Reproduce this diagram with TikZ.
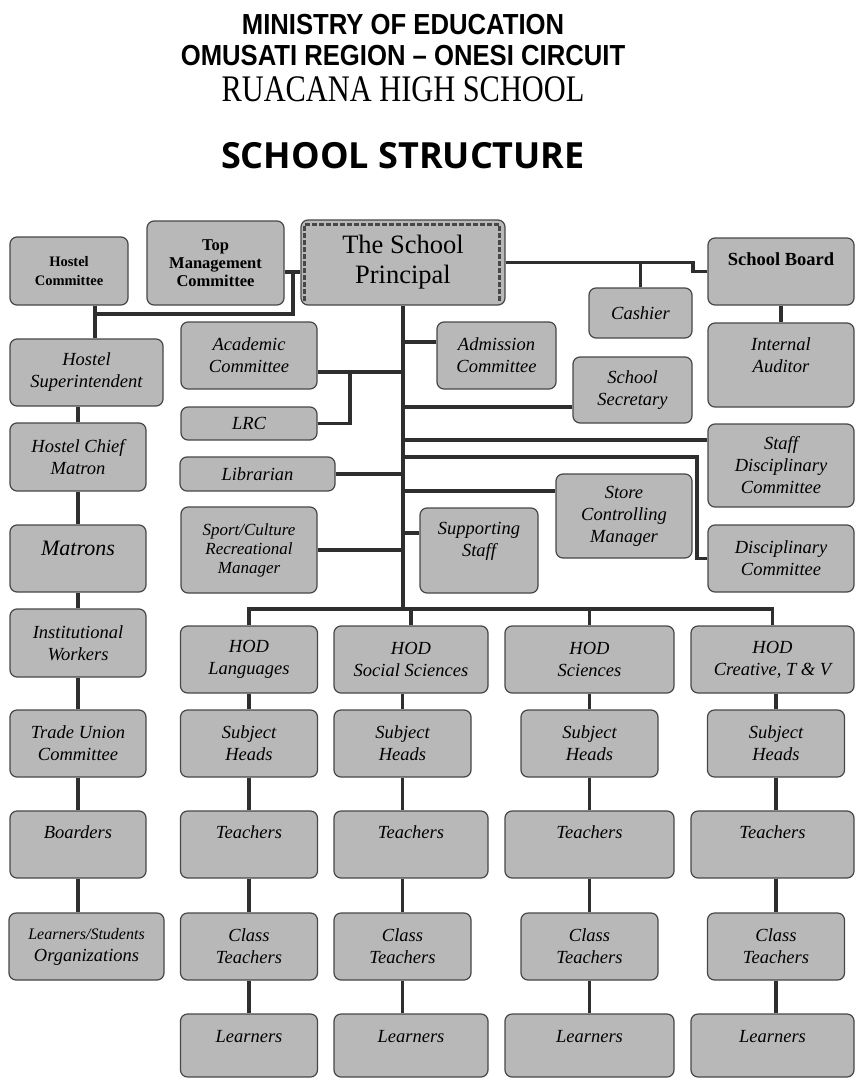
\documentclass[tikz,border=0pt]{standalone}
\usepackage{fontspec}
\setmainfont{Liberation Serif}
\newfontfamily\headsans{Liberation Sans}[FakeStretch=0.885]
\newfontfamily\titleserif{Liberation Serif}[FakeStretch=0.81]
\newfontfamily\structfont{Open Sans}
\definecolor{boxgray}{gray}{0.72}
\definecolor{edgegray}{gray}{0.28}
\definecolor{linegray}{gray}{0.18}

\begin{document}
\begin{tikzpicture}[x=1pt, y=-1pt,
    wh/.style 2 args={minimum width=#1, minimum height=#2},
    box/.style={draw=edgegray, fill=boxgray, rounded corners=7pt, line width=1.2pt,
                inner sep=0pt, align=center, font=\itshape\fontsize{18.5}{22}\selectfont},
    boldbox/.style={box, font=\bfseries\fontsize{16.5}{18}\selectfont},
    link/.style={draw=linegray, line width=3.8pt},
    hatch/.style={draw=edgegray, line width=3pt, dash pattern=on 5pt off 2pt}]
      \fill[white] (0,0) rectangle (855,1079);
      \useasboundingbox (0,0) rectangle (855,1079);
      % headings
      \node[font=\headsans\bfseries\fontsize{29}{29}\selectfont, anchor=base] (ministry) at (403,34) {MINISTRY OF EDUCATION};
      \node[font=\headsans\bfseries\fontsize{29}{29}\selectfont, anchor=base] (region) at (403,65) {OMUSATI REGION – ONESI CIRCUIT};
      \node[font=\titleserif\fontsize{37.5}{37.5}\selectfont, anchor=base] (schoolname) at (403,101) {RUACANA HIGH SCHOOL};
      \node[font=\structfont\bfseries\fontsize{36}{36}\selectfont, anchor=base] (structure) at (403,168) {SCHOOL STRUCTURE};
      % top row
      \node[boldbox, wh={118}{68}, font=\bfseries\fontsize{14.5}{19}\selectfont] (hostelcom) at (69,271) {Hostel\\Committee};
      \node[boldbox, wh={137}{84}] (topman) at (215.5,263) {Top\\Management\\Committee};
      \node[box, wh={204}{85}, font=\fontsize{26.5}{30}\selectfont] (principal) at (403,262.5) {The School\\Principal};
      \draw[hatch] ([xshift=4pt,yshift=5pt]principal.south west) -- ([xshift=4pt,yshift=-5pt]principal.north west)
                   -- ([xshift=-6pt,yshift=-5pt]principal.north east) -- ([xshift=-6pt,yshift=5pt]principal.south east);
      \node[boldbox, wh={146}{67}, font=\bfseries\fontsize{18.5}{20}\selectfont, text depth=25pt] (board) at (781,271.5) {School Board};
      \node[box, wh={103}{50}] (cashier) at (640.5,313) {Cashier};
      \node[box, wh={146}{84}, text depth=20pt] (auditor) at (781,365) {Internal\\Auditor};
      % hostel side
      \node[box, wh={153}{67}] (superint) at (86.5,372.5) {Hostel\\Superintendent};
      \node[box, wh={136}{68}] (chiefmatron) at (78,457) {Hostel Chief\\Matron};
      \node[box, wh={136}{67}, font=\itshape\fontsize{22}{26}\selectfont, text depth=21pt] (matrons) at (78,558.5) {Matrons};
      \node[box, wh={136}{68}] (workers) at (78,643) {Institutional\\Workers};
      \node[box, wh={136}{67}] (union) at (78,743.5) {Trade Union\\Committee};
      \node[box, wh={136}{67}, text depth=24pt] (boarders) at (78,844.5) {Boarders};
      \node[box, wh={155}{67}] (orgs) at (86.5,946.5) {{\fontsize{16}{17}\selectfont Learners/Students}\\Organizations};
      % staff around the principal
      \node[box, wh={136}{67}] (academic) at (249,355.5) {Academic\\Committee};
      \node[box, wh={136}{33}] (lrc) at (249,423.5) {LRC};
      \node[box, wh={155}{34}] (librarian) at (257.5,474) {Librarian};
      \node[box, wh={136}{86}, font=\itshape\fontsize{17}{19}\selectfont] (sport) at (249,550) {Sport/Culture\\Recreational\\Manager};
      \node[box, wh={119}{67}] (admission) at (496.5,355.5) {Admission\\Committee};
      \node[box, wh={119}{66}] (secretary) at (632.5,390) {School\\Secretary};
      \node[box, wh={146}{83}] (staffdisc) at (781,465.5) {Staff\\Disciplinary\\Committee};
      \node[box, wh={146}{67}] (disc) at (781,558.5) {Disciplinary\\Committee};
      \node[box, wh={136}{84}] (store) at (624,516) {Store\\Controlling\\Manager};
      \node[box, wh={118}{85}, text depth=22pt] (support) at (479,550.5) {Supporting\\Staff};

      \coordinate (tmj) at (293,272);
      \coordinate (hcj) at (95,314);
      \draw[link] (topman.east |- tmj) -- (principal.west |- tmj);
      \draw[link] (tmj) |- (hcj);
      \draw[link] (hostelcom.south -| hcj) -- (superint.north -| hcj);
      \draw[link] (chiefmatron.north |- superint.south) -- (chiefmatron.north);
      \draw[link] (chiefmatron.south) -- (matrons.north);
      \draw[link] (matrons.south) -- (workers.north);
      \draw[link] (workers.south) -- (union.north);
      \draw[link] (union.south) -- (boarders.north);
      \draw[link] (boarders.south) -- (boarders.south |- orgs.north);

      \coordinate (sbj) at (693,262.5);
      \draw[link] (principal.east) -- (sbj) |- (board.west);
      \draw[link] (cashier.north) -- (cashier.north |- principal.east);
      \draw[link] (board.south) -- (auditor.north);

      \coordinate (acj) at ([yshift=-16.5pt]academic.east);
      \coordinate (lrcj) at (350,372);
      \coordinate (adj) at ([yshift=13.5pt]admission.west);
      \coordinate (secj) at ([yshift=-17pt]secretary.west);
      \coordinate (sdj) at ([yshift=25.5pt]staffdisc.west);
      \coordinate (dcj) at (697,457);
      \coordinate (stj) at ([yshift=25pt]store.west);
      \coordinate (spj) at ([yshift=17.5pt]support.west);
      \draw[link] (acj) -- (acj -| principal.south);
      \draw[link] (lrc.east) -| (lrcj);
      \draw[link] (librarian.east) -- (librarian.east -| principal.south);
      \draw[link] (sport.east) -- (sport.east -| principal.south);
      \draw[link] (adj) -- (adj -| principal.south);
      \draw[link] (secj) -- (secj -| principal.south);
      \draw[link] (sdj) -- (sdj -| principal.south);
      \draw[link] (dcj -| principal.south) -- (dcj) |- (disc.west);
      \draw[link] (stj) -- (stj -| principal.south);
      \draw[link] (spj) -- (spj -| principal.south);

      % heads of department
      \coordinate (bus) at (403,609);
      \foreach \c/\wx/\ww/\nx/\hod in {1/249/137/249/{HOD\\Languages},
                                       2/411/154/402.5/{HOD\\Social Sciences},
                                       3/589.5/169/589.5/{HOD\\Sciences},
                                       4/772.5/163/776/{HOD\\Creative, T \& V}}
               {
                 \node[box, wh={\ww}{67}] (hod\c) at (\wx,659.5) {\hod};
                 \node[box, wh={137}{67}] (sh\c) at (\nx,743.5) {Subject\\Heads};
                 \node[box, wh={\ww}{67}, text depth=24pt] (tch\c) at (\wx,844.5) {Teachers};
                 \node[box, wh={137}{67}] (ct\c) at (\nx,946.5) {Class\\Teachers};
                 \node[box, wh={\ww}{63}, text depth=19pt] (lrn\c) at (\wx,1045.5) {Learners};
                 \draw[link] (hod\c.south -| sh\c.north) -- (sh\c.north);
                 \draw[link] (sh\c.south) -- (sh\c.south |- tch\c.north);
                 \draw[link] (tch\c.south -| ct\c.north) -- (ct\c.north);
                 \draw[link] (ct\c.south) -- (ct\c.south |- lrn\c.north);
               }
      \draw[link] (principal.south) -- (bus);
      \draw[link] (hod1.north) |- (bus) -| (hod4.north);
      \draw[link] (hod2.north) -- (hod2.north |- bus);
      \draw[link] (hod3.north) -- (hod3.north |- bus);
\end{tikzpicture}
\end{document}
